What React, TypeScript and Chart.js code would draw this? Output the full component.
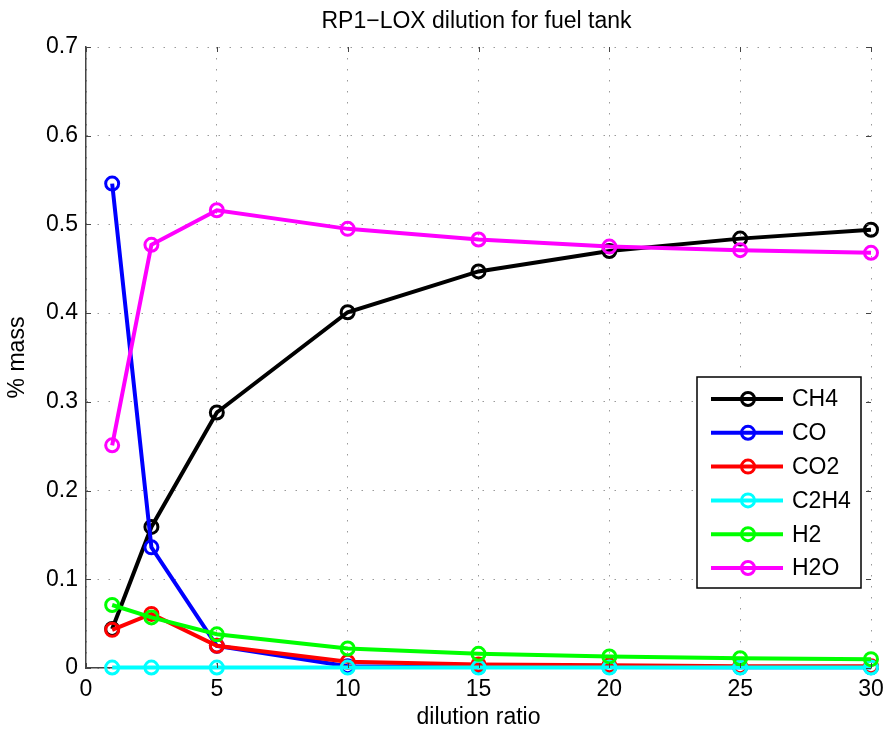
import React, { useEffect, useRef } from "react";
import { Chart, registerables } from "chart.js";

Chart.register(...registerables);

const dilution = [1, 2.5, 5, 10, 15, 20, 25, 30];
const ch4 = [0.044, 0.159, 0.288, 0.401, 0.447, 0.470, 0.484, 0.494];
const co = [0.546, 0.136, 0.025, 0.002, 0.001, 0.001, 0.0008, 0.0008];
const co2 = [0.043, 0.061, 0.025, 0.007, 0.004, 0.003, 0.002, 0.002];
const c2h4 = [0.0005, 0.0005, 0.0005, 0.0005, 0.0005, 0.0005, 0.0005, 0.0005];
const h2 = [0.071, 0.057, 0.038, 0.022, 0.016, 0.013, 0.011, 0.010];
const h2o = [0.251, 0.477, 0.516, 0.495, 0.483, 0.475, 0.471, 0.468];

const seriesNames = ["CH4", "CO", "CO2", "C2H4", "H2", "H2O"];
const seriesValues = [ch4, co, co2, c2h4, h2, h2o];
const seriesColors = ["#000000", "#0000ff", "#ff0000", "#00ffff", "#00ff00", "#ff00ff"];

const titleText = "RP1\u2212LOX dilution for fuel tank";
const xTitle = "dilution ratio";
const yTitle = "% mass";

const FONT = "'Liberation Sans', Arial, Helvetica, sans-serif";
const FS = 23;

const extrasPlugin = {
  id: "extras",
  afterDraw(chart: any) {
    const { ctx, chartArea, scales } = chart;
    const xs = scales.x;
    const ys = scales.y;
    ctx.save();
    // inward tick marks
    ctx.strokeStyle = "#444";
    ctx.lineWidth = 1;
    const tl = 5;
    ys.ticks.forEach((t: any) => {
      const y = Math.round(ys.getPixelForValue(t.value)) + 0.5;
      ctx.beginPath();
      ctx.moveTo(chartArea.left, y);
      ctx.lineTo(chartArea.left + tl, y);
      ctx.moveTo(chartArea.right, y);
      ctx.lineTo(chartArea.right - tl, y);
      ctx.stroke();
    });
    xs.ticks.forEach((t: any) => {
      const x = Math.round(xs.getPixelForValue(t.value)) + 0.5;
      ctx.beginPath();
      ctx.moveTo(x, chartArea.bottom);
      ctx.lineTo(x, chartArea.bottom - tl);
      ctx.moveTo(x, chartArea.top);
      ctx.lineTo(x, chartArea.top + tl);
      ctx.stroke();
    });
    // title
    ctx.fillStyle = "#000";
    ctx.font = `${FS}px ${FONT}`;
    ctx.textAlign = "center";
    ctx.textBaseline = "middle";
    ctx.fillText(titleText, (chartArea.left + chartArea.right) / 2 - 2, 22);

    // legend
    const bw = 164;
    const bh = 211;
    const bx = chartArea.right - 174;
    const by = chartArea.bottom - 291;
    ctx.fillStyle = "#ffffff";
    ctx.fillRect(bx, by, bw, bh);
    ctx.strokeStyle = "#000";
    ctx.lineWidth = 1.5;
    ctx.strokeRect(bx, by, bw, bh);
    const rowH = 33.8;
    seriesNames.forEach((name, i) => {
      const cy = by + 22 + i * rowH;
      ctx.strokeStyle = seriesColors[i];
      ctx.lineWidth = 4;
      ctx.beginPath();
      ctx.moveTo(bx + 14, cy);
      ctx.lineTo(bx + 86, cy);
      ctx.stroke();
      ctx.lineWidth = 3;
      ctx.beginPath();
      ctx.arc(bx + 51, cy, 6.5, 0, Math.PI * 2);
      ctx.stroke();
      ctx.fillStyle = "#000";
      ctx.font = `${FS}px ${FONT}`;
      ctx.textAlign = "left";
      ctx.textBaseline = "middle";
      ctx.fillText(name, bx + 95, cy + 1);
    });
    ctx.restore();
  },
};

export default function App() {
  const ref = useRef<HTMLCanvasElement | null>(null);
  useEffect(() => {
    document.body.style.margin = "0";
    if (!ref.current) return;
    const chart = new Chart(ref.current, {
      type: "line",
      data: {
        datasets: seriesNames.map((name, i) => ({
          label: name,
          data: dilution.map((x, j) => ({ x, y: seriesValues[i][j] })),
          borderColor: seriesColors[i],
          backgroundColor: "rgba(0,0,0,0)",
          pointBackgroundColor: "rgba(0,0,0,0)",
          pointBorderColor: seriesColors[i],
          pointRadius: 6.5,
          pointBorderWidth: 3,
          borderWidth: 4,
          tension: 0,
          order: seriesNames.length - i,
          clip: false as any,
        })),
      },
      options: {
        animation: false,
        responsive: false,
        maintainAspectRatio: false,
        layout: { padding: { left: 0, right: 16, top: 47, bottom: 0 } },
        plugins: {
          legend: { display: false },
          title: { display: false },
          tooltip: { enabled: false },
        },
        scales: {
          x: {
            type: "linear",
            min: 0,
            max: 30,
            ticks: {
              stepSize: 5,
              padding: 8,
              maxRotation: 0,
              color: "#000",
              font: { family: FONT, size: FS },
            },
            grid: { color: "#9a9a9a", lineWidth: 1, drawTicks: false },
            border: { display: true, color: "#444", width: 1.5, dash: [1.5, 9.5] },
            title: {
              display: true,
              text: xTitle,
              color: "#000",
              font: { family: FONT, size: FS },
              padding: { top: 0, bottom: 0 },
            },
            afterFit: (axis: any) => {
              axis.height = 63;
              axis.paddingLeft = 0;
              axis.paddingRight = 0;
            },
          },
          y: {
            type: "linear",
            min: 0,
            max: 0.7,
            ticks: {
              stepSize: 0.1,
              padding: 8,
              color: "#000",
              font: { family: FONT, size: FS },
              callback: (v: any) => (Number(v) === 0 ? "0" : Number(v).toFixed(1)),
            },
            grid: { color: "#9a9a9a", lineWidth: 1, drawTicks: false },
            border: { display: true, color: "#444", width: 1.5, dash: [1.5, 9.5] },
            title: {
              display: true,
              text: yTitle,
              color: "#000",
              font: { family: FONT, size: FS },
              padding: { top: 4, bottom: 0 },
            },
            afterFit: (axis: any) => {
              axis.width = 86;
            },
          },
        },
      },
      plugins: [extrasPlugin],
    });
    return () => chart.destroy();
  }, []);
  return <canvas ref={ref} width={887} height={731} style={{ display: "block" }} />;
}
